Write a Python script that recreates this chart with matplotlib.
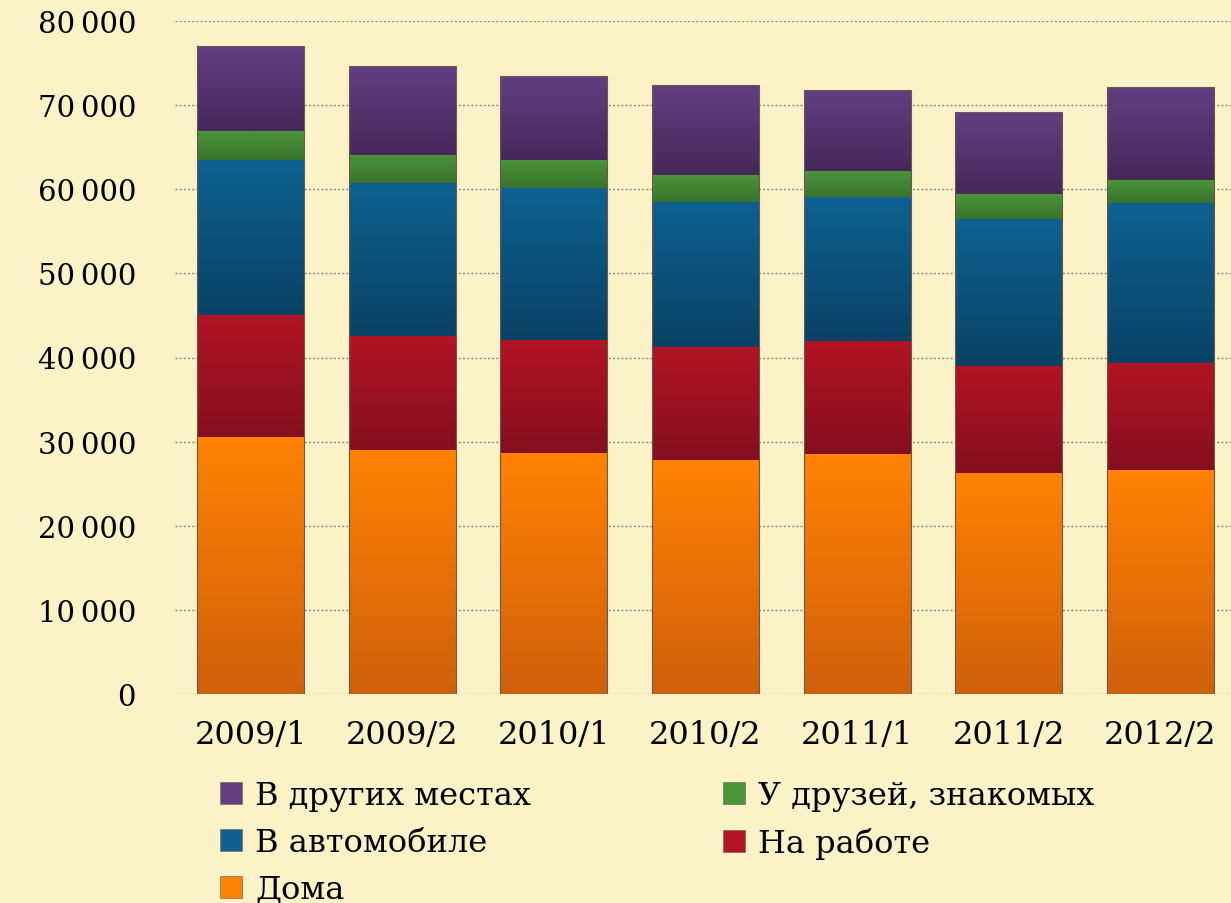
import matplotlib.pyplot as plt
import numpy as np
from matplotlib.ticker import FuncFormatter
from matplotlib.colors import LinearSegmentedColormap

# данные по периодам
periods = ["2009/1", "2009/2", "2010/1", "2010/2", "2011/1", "2011/2", "2012/2"]
doma = [30560, 29010, 28660, 27820, 28540, 26280, 26630]
na_rabote = [14510, 13560, 13430, 13440, 13430, 12720, 12730]
v_avto = [18430, 18190, 18080, 17240, 17130, 17480, 19020]
u_druzei = [3440, 3330, 3330, 3210, 3090, 2970, 2740]
v_drugih = [10110, 10580, 9980, 10700, 9630, 9750, 11060]

names = ["Дома", "На работе", "В автомобиле", "У друзей, знакомых", "В других местах"]
series = [doma, na_rabote, v_avto, u_druzei, v_drugih]
# (цвет сверху, цвет снизу) для градиента
colors = [("#FF8204", "#CF600C"),
          ("#B21426", "#840F1F"),
          ("#0E6190", "#0A4265"),
          ("#4B9539", "#3A722E"),
          ("#633F82", "#46285A")]

bg = "#FCF2C7"
plt.rcParams['font.family'] = ['DejaVu Serif']

fig = plt.figure(figsize=(12.31, 9.04), dpi=100, facecolor=bg)
ax = fig.add_axes([175/1231, 209/904, 1061/1231, 673/904])
ax.set_facecolor(bg)

x = np.arange(len(periods))
bottom = np.zeros(len(periods))
handles = []
for vals, (c_top, c_bot), name in zip(series, colors, names):
    bars = ax.bar(x, vals, width=0.705, bottom=bottom, color=c_top,
                  edgecolor="none", label=name, zorder=3)
    cmap = LinearSegmentedColormap.from_list("g", [c_bot, c_top])
    grad = np.linspace(0, 1, 64).reshape(-1, 1)
    for b in bars:
        x0, y0 = b.get_x(), b.get_y()
        w, h = b.get_width(), b.get_height()
        im = ax.imshow(grad, cmap=cmap, aspect="auto", origin="lower",
                       extent=[x0, x0 + w, y0, y0 + h], zorder=4)
        im.set_clip_path(b)
    handles.append(bars)
    bottom += np.array(vals)

# тонкая рамка вокруг столбиков
for i, total in enumerate(bottom):
    ax.bar(x[i], total, width=0.705, fill=False, edgecolor="#6b5a4a",
           linewidth=0.8, zorder=5)

ax.set_xlim(-0.5, 6.5)
ax.set_ylim(0, 80000)
ax.set_yticks(range(0, 80001, 10000))
ax.yaxis.set_major_formatter(FuncFormatter(lambda v, p: f"{v:,.0f}".replace(",", "\u2009")))
ax.set_xticks(x)
ax.set_xticklabels(periods)
ax.grid(axis="y", linestyle=(0, (1.5, 1.5)), color="#8a8a8a", linewidth=1.0, zorder=1)
for s in ax.spines.values():
    s.set_visible(False)
ax.tick_params(axis="y", length=0, pad=28, labelsize=21)
ax.tick_params(axis="x", length=0, pad=18, labelsize=23)

order = [4, 2, 0, 3, 1]
leg = fig.legend([handles[i] for i in order], [names[i] for i in order],
                 ncol=2, loc="upper left", bbox_to_anchor=(220/1231, 1 - 781/904),
                 frameon=False, fontsize=23, handlelength=0.7, handleheight=0.7,
                 handletextpad=0.4, columnspacing=6.0, labelspacing=0.5,
                 borderaxespad=0, borderpad=0)
for h, i in zip(leg.legend_handles, order):
    h.set_color(colors[i][0])
    h.set_edgecolor("#7a6a5a")
    h.set_linewidth(0.5)

plt.savefig("out.png", dpi=100, facecolor=bg)
